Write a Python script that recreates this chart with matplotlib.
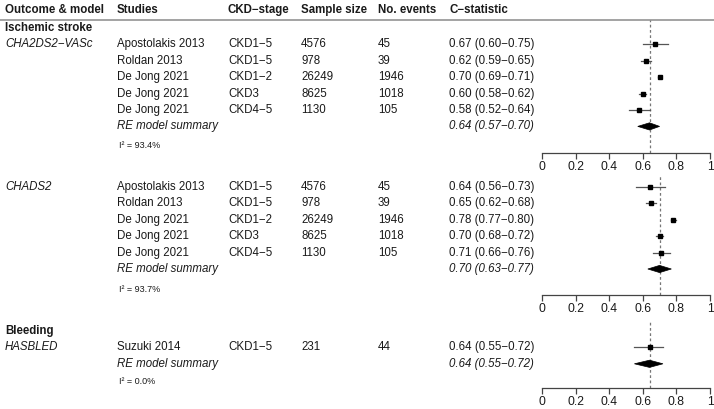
import matplotlib
matplotlib.use("Agg")
import matplotlib.pyplot as plt
from matplotlib.patches import Polygon

plt.rcParams['font.family'] = ['Liberation Sans', 'DejaVu Sans']

# ---------------- data ----------------
headers = ["Outcome & model", "Studies", "CKD\u2212stage", "Sample size", "No. events", "C\u2212statistic"]
outcomes = ["Ischemic stroke", None, "Bleeding"]
models = ["CHA2DS2\u2212VASc", "CHADS2", "HASBLED"]

studies_1 = ["Apostolakis 2013", "Roldan 2013", "De Jong 2021", "De Jong 2021", "De Jong 2021"]
stages_1 = ["CKD1\u22125", "CKD1\u22125", "CKD1\u22122", "CKD3", "CKD4\u22125"]
n_1 = [4576, 978, 26249, 8625, 1130]
ev_1 = [45, 39, 1946, 1018, 105]
c_1 = [0.67, 0.62, 0.70, 0.60, 0.58]
lo_1 = [0.60, 0.59, 0.69, 0.58, 0.52]
hi_1 = [0.75, 0.65, 0.71, 0.62, 0.64]

studies_2 = ["Apostolakis 2013", "Roldan 2013", "De Jong 2021", "De Jong 2021", "De Jong 2021"]
stages_2 = ["CKD1\u22125", "CKD1\u22125", "CKD1\u22122", "CKD3", "CKD4\u22125"]
n_2 = [4576, 978, 26249, 8625, 1130]
ev_2 = [45, 39, 1946, 1018, 105]
c_2 = [0.64, 0.65, 0.78, 0.70, 0.71]
lo_2 = [0.56, 0.62, 0.77, 0.68, 0.66]
hi_2 = [0.73, 0.68, 0.80, 0.72, 0.76]

studies_3 = ["Suzuki 2014"]
stages_3 = ["CKD1\u22125"]
n_3 = [231]
ev_3 = [44]
c_3 = [0.64]
lo_3 = [0.55]
hi_3 = [0.72]

summary_est = [0.64, 0.70, 0.64]
summary_lo = [0.57, 0.63, 0.55]
summary_hi = [0.70, 0.77, 0.72]
i2 = [93.4, 93.7, 0.0]

xticks = [0, 0.2, 0.4, 0.6, 0.8, 1]
xticklabels = ["0", "0.2", "0.4", "0.6", "0.8", "1"]

# ---------------- layout (pixels) ----------------
W, H = 714, 409
fig = plt.figure(figsize=(W / 100, H / 100), dpi=100)
bg = fig.add_axes([0, 0, 1, 1])
bg.set_xlim(0, W)
bg.set_ylim(H, 0)
bg.axis('off')

FS = 8.3
TXT = '#1a1a1a'
col_x = [5, 117, 228, 301, 378, 449]
header_y = 10
step = 16.4

panels = [
    dict(studies=studies_1, stages=stages_1, n=n_1, ev=ev_1, c=c_1, lo=lo_1, hi=hi_1,
         outcome_y=28, first=44.4, i2_y=146, top=20, axis_y=153),
    dict(studies=studies_2, stages=stages_2, n=n_2, ev=ev_2, c=c_2, lo=lo_2, hi=hi_2,
         outcome_y=None, first=187, i2_y=289, top=176, axis_y=295),
    dict(studies=studies_3, stages=stages_3, n=n_3, ev=ev_3, c=c_3, lo=lo_3, hi=hi_3,
         outcome_y=331, first=347.4, i2_y=381, top=320, axis_y=388),
]

for x, h in zip(col_x, headers):
    bg.text(x, header_y, h, fontsize=FS, fontweight='bold', color=TXT, va='center', ha='left')
bg.plot([0, W], [19.5, 19.5], color='#8a8a8a', lw=1.1, solid_capstyle='butt')

fx0, fx1 = 542, 710
for k, p in enumerate(panels):
    if outcomes[k]:
        bg.text(col_x[0], p['outcome_y'], outcomes[k], fontsize=FS, fontweight='bold',
                color=TXT, va='center')
    ys = [p['first'] + i * step for i in range(len(p['studies']))]
    sum_y = p['first'] + len(p['studies']) * step
    bg.text(col_x[0], ys[0], models[k], fontsize=FS, style='italic', color=TXT, va='center')
    for i, y in enumerate(ys):
        bg.text(col_x[1], y, p['studies'][i], fontsize=FS, color=TXT, va='center')
        bg.text(col_x[2], y, p['stages'][i], fontsize=FS, color=TXT, va='center')
        bg.text(col_x[3], y, str(p['n'][i]), fontsize=FS, color=TXT, va='center')
        bg.text(col_x[4], y, str(p['ev'][i]), fontsize=FS, color=TXT, va='center')
        bg.text(col_x[5], y, f"{p['c'][i]:.2f} ({p['lo'][i]:.2f}\u2212{p['hi'][i]:.2f})",
                fontsize=FS, color=TXT, va='center')
    bg.text(col_x[1], sum_y, "RE model summary", fontsize=FS, style='italic', color=TXT, va='center')
    bg.text(col_x[5], sum_y,
            f"{summary_est[k]:.2f} ({summary_lo[k]:.2f}\u2212{summary_hi[k]:.2f})",
            fontsize=FS, style='italic', color=TXT, va='center')
    bg.text(col_x[1] + 2, p['i2_y'], f"I\u00b2 = {i2[k]:.1f}%", fontsize=6.5, color=TXT, va='center')

    # forest axes
    top, bot = p['top'], p['axis_y']
    ax = fig.add_axes([fx0 / W, (H - bot) / H, (fx1 - fx0) / W, (bot - top) / H])
    ax.set_xlim(0, 1)
    ax.set_ylim(bot, top)
    ax.patch.set_visible(False)
    for s in ['top', 'right', 'left']:
        ax.spines[s].set_visible(False)
    ax.spines['bottom'].set_color('#444444')
    ax.spines['bottom'].set_linewidth(0.9)
    ax.set_yticks([])
    ax.set_xticks(xticks)
    ax.set_xticklabels(xticklabels, fontsize=FS + 0.4, color=TXT)
    ax.tick_params(axis='x', direction='out', length=4, width=0.9, color='#444444', pad=1.5)
    ax.axvline(summary_est[k], color='#777777', lw=0.9, ls=(0, (2.2, 2.0)), zorder=1)
    for i, y in enumerate(ys):
        ax.plot([p['lo'][i], p['hi'][i]], [y, y], color='#555555', lw=0.9, zorder=2)
        ax.plot([p['c'][i]], [y], marker='s', ms=3.3, color='black', mec='black', zorder=3)
    dh = 3.6
    ax.add_patch(Polygon([(summary_lo[k], sum_y), (summary_est[k], sum_y - dh),
                          (summary_hi[k], sum_y), (summary_est[k], sum_y + dh)],
                         closed=True, facecolor='black', edgecolor='black', lw=0.5, zorder=4))

fig.savefig("out.png", dpi=100)
